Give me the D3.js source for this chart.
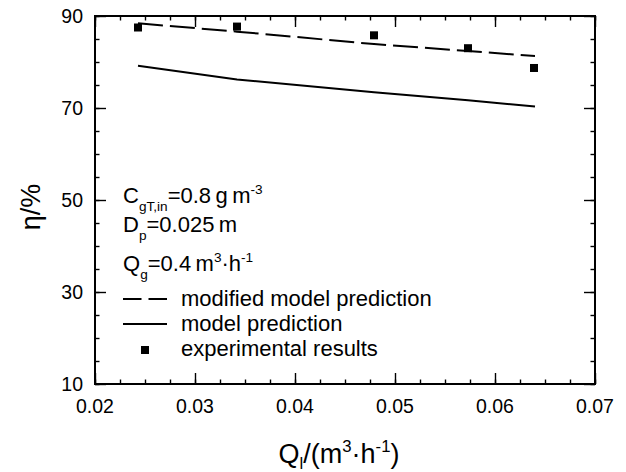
<!DOCTYPE html>
<html>
<head>
  <meta charset="utf-8">
  <title>eta vs Ql</title>
  <script src="https://cdnjs.cloudflare.com/ajax/libs/d3/7.8.5/d3.min.js"></script>
  <style>
    body { margin: 0; background: #fff; }
    svg { font-family: Arial, "Liberation Sans", sans-serif; display: block; }
  </style>
</head>
<body>
<div id="vis"></div>
<script>
// values
var expQ = [0.0243, 0.0342, 0.0479, 0.0573, 0.0639];
var expEta = [87.5, 87.7, 85.8, 83.0, 78.7];
var modelQ = [0.0243, 0.0342, 0.0479, 0.0573, 0.064];
var modifiedEta = [88.4, 86.6, 83.9, 82.4, 81.3];
var modelEta = [79.2, 76.2, 73.4, 71.7, 70.3];
var xTicks = [0.02, 0.03, 0.04, 0.05, 0.06, 0.07];
var yTicks = [10, 30, 50, 70, 90];

var W = 626, H = 472;
var pl = 95, pr = 595, pt = 16, pb = 384;

var svg = d3.select("#vis").append("svg")
  .attr("width", W).attr("height", H);

var x = d3.scaleLinear().domain([0.02, 0.07]).range([pl, pr]);
var y = d3.scaleLinear().domain([10, 90]).range([pb, pt]);

var xMinor = d3.range(0.02, 0.0701, 0.0025);
var yMinor = d3.range(10, 90.1, 5);

// frame: four axes, ticks pointing inwards
function ax(gen, tr) {
  var g = svg.append("g").attr("transform", tr).call(gen);
  g.select(".domain").remove();
  g.selectAll("line").attr("stroke", "#000").attr("stroke-width", 1.4);
  return g;
}
ax(d3.axisTop(x).tickValues(xMinor).tickSize(4.5).tickFormat(""), "translate(0," + pb + ")");
ax(d3.axisTop(x).tickValues(xTicks).tickSize(11).tickFormat(""), "translate(0," + pb + ")");
ax(d3.axisBottom(x).tickValues(xMinor).tickSize(4.5).tickFormat(""), "translate(0," + pt + ")");
ax(d3.axisBottom(x).tickValues(xTicks).tickSize(11).tickFormat(""), "translate(0," + pt + ")");
ax(d3.axisRight(y).tickValues(yMinor).tickSize(4.5).tickFormat(""), "translate(" + pl + ",0)");
ax(d3.axisRight(y).tickValues(yTicks).tickSize(11).tickFormat(""), "translate(" + pl + ",0)");
ax(d3.axisLeft(y).tickValues(yMinor).tickSize(4.5).tickFormat(""), "translate(" + pr + ",0)");
ax(d3.axisLeft(y).tickValues(yTicks).tickSize(11).tickFormat(""), "translate(" + pr + ",0)");

svg.append("rect")
  .attr("x", pl).attr("y", pt)
  .attr("width", pr - pl).attr("height", pb - pt)
  .attr("fill", "none").attr("stroke", "#000").attr("stroke-width", 2);

// tick labels
svg.selectAll("text.xl").data(xTicks).enter().append("text")
  .attr("class", "xl")
  .attr("x", function(d) { return x(d); })
  .attr("y", 413)
  .attr("text-anchor", "middle")
  .attr("font-size", 19.5)
  .text(d3.format(".2f"));

svg.selectAll("text.yl").data(yTicks).enter().append("text")
  .attr("class", "yl")
  .attr("x", pl - 12)
  .attr("y", function(d) { return y(d) + 7; })
  .attr("text-anchor", "end")
  .attr("font-size", 19.5)
  .text(function(d) { return d; });

// text with sub / superscripts
function rich(sel, parts, size, subDy) {
  var shift = 0;
  parts.forEach(function(p) {
    var s = p[1] == "sub" ? (subDy || size * 0.36) : p[1] == "sup" ? -size * 0.42 : 0;
    sel.append("tspan")
      .attr("dy", s - shift)
      .attr("font-size", s ? size * 0.62 : size)
      .text(p[0]);
    shift = s;
  });
  return sel;
}

// lines
var line = d3.line()
  .x(function(d) { return x(d[0]); })
  .y(function(d) { return y(d[1]); });

svg.append("path")
  .datum(d3.zip(modelQ, modifiedEta))
  .attr("d", line)
  .attr("fill", "none").attr("stroke", "#000").attr("stroke-width", 2)
  .attr("stroke-dasharray", "25,7");

svg.append("path")
  .datum(d3.zip(modelQ, modelEta))
  .attr("d", line)
  .attr("fill", "none").attr("stroke", "#000").attr("stroke-width", 2);

var ms = 8;
svg.selectAll("rect.pt").data(d3.zip(expQ, expEta)).enter().append("rect")
  .attr("class", "pt")
  .attr("x", function(d) { return x(d[0]) - ms / 2; })
  .attr("y", function(d) { return y(d[1]) - ms / 2; })
  .attr("width", ms).attr("height", ms)
  .attr("fill", "#000");

// annotation
var fs = 22;
rich(svg.append("text").attr("x", 123).attr("y", 203).attr("font-size", fs),
  [["C"], ["gT,in", "sub"], ["=0.8\u2009g\u2009m"], ["-3", "sup"]], fs);
rich(svg.append("text").attr("x", 123).attr("y", 232).attr("font-size", fs),
  [["D"], ["p", "sub"], ["=0.025\u2009m"]], fs);
rich(svg.append("text").attr("x", 123).attr("y", 271).attr("font-size", fs),
  [["Q"], ["g", "sub"], ["=0.4\u2009m"], ["3", "sup"], ["\u00b7h"], ["-1", "sup"]], fs);

// legend
var lg = svg.append("g");
lg.append("line").attr("x1", 123).attr("x2", 167).attr("y1", 299).attr("y2", 299)
  .attr("stroke", "#000").attr("stroke-width", 2).attr("stroke-dasharray", "18.5,7");
lg.append("line").attr("x1", 123).attr("x2", 167).attr("y1", 324).attr("y2", 324)
  .attr("stroke", "#000").attr("stroke-width", 2);
lg.append("rect").attr("x", 145 - ms / 2).attr("y", 350 - ms / 2)
  .attr("width", ms).attr("height", ms).attr("fill", "#000");
var legendNames = ["modified model prediction", "model prediction", "experimental results"];
lg.selectAll("text").data(legendNames).enter().append("text")
  .attr("x", 181)
  .attr("y", function(d, i) { return 306 + i * 25; })
  .attr("font-size", fs)
  .text(function(d) { return d; });

// axis titles
rich(svg.append("text").attr("x", 339).attr("y", 463)
  .attr("text-anchor", "middle").attr("font-size", 27),
  [["Q"], ["l", "sub"], ["/(m"], ["3", "sup"], ["\u00b7h"], ["-1", "sup"], [")"]], 27, 6);

svg.append("text")
  .attr("transform", "translate(40,207) rotate(-90)")
  .attr("text-anchor", "middle")
  .attr("font-size", 27)
  .text("\u03b7/%");
</script>
</body>
</html>
